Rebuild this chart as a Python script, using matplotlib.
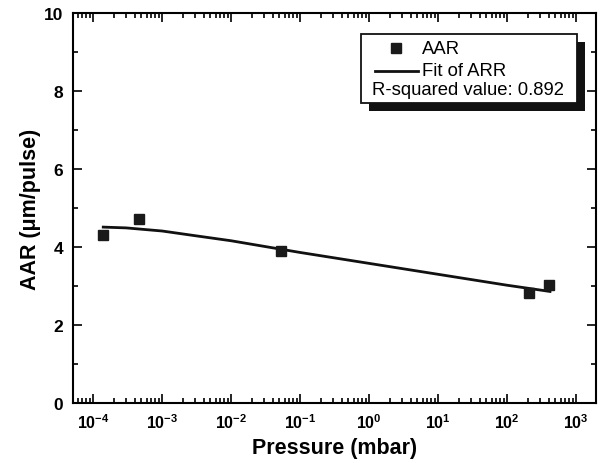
""" AAR versus pressure, log-x scatter with fitted curve """
import math

import matplotlib
matplotlib.use('Agg')
import matplotlib.pyplot as plt
from matplotlib.patches import Rectangle
from matplotlib.lines import Line2D
from matplotlib.ticker import FixedLocator, FuncFormatter, LogLocator, MultipleLocator, NullFormatter

plt.rcParams['font.family'] = ['Liberation Sans', 'DejaVu Sans']
plt.rcParams['mathtext.fontset'] = 'custom'
plt.rcParams['mathtext.bf'] = 'Liberation Sans:bold'
plt.rcParams['mathtext.rm'] = 'Liberation Sans:bold'
plt.rcParams['mathtext.default'] = 'bf'

# measured points
pressure = [1.4e-4, 4.6e-4, 5.2e-2, 2.1e2, 4.1e2]
aar = [4.32, 4.71, 3.91, 2.81, 3.03]

# fitted curve
fit_pressure = [1.4e-4, 3e-4, 1e-3, 3e-3, 1e-2, 5e-2, 1e-1, 1, 10, 100, 420]
fit_aar = [4.51, 4.49, 4.41, 4.29, 4.16, 3.95, 3.86, 3.58, 3.30, 3.02, 2.86]

# decade ticks on the pressure axis
x_exponents = [-4, -3, -2, -1, 0, 1, 2, 3]

W, H = 603, 464


def fx(x):
    return x / W


def fy(y):
    return 1 - y / H


def decade_label(v, pos):
    return r'$\mathbf{10^{%d}}$' % round(math.log10(v))


fig = plt.figure(figsize=(W / 100, H / 100), dpi=100)
ax = fig.add_axes([fx(73), fy(404), (596 - 73) / W, (404 - 14) / H])

ax.plot(fit_pressure, fit_aar, color='#111111', lw=2.0, zorder=2)
ax.plot(pressure, aar, 's', color='#1a1a1a', ms=6.5, zorder=3)

ax.set_xscale('log')
ax.set_xlim(5.1e-5, 1950)
ax.set_ylim(0, 10)
ax.yaxis.set_major_locator(MultipleLocator(2))
ax.yaxis.set_minor_locator(MultipleLocator(1))
ax.xaxis.set_major_locator(FixedLocator([10.0 ** e for e in x_exponents]))
ax.xaxis.set_major_formatter(FuncFormatter(decade_label))
ax.xaxis.set_minor_locator(LogLocator(base=10, subs=range(2, 10), numticks=100))
ax.xaxis.set_minor_formatter(NullFormatter())

for s in ax.spines.values():
    s.set_linewidth(1.5)
ax.tick_params(which='both', direction='in', top=True, right=True, width=1.2)
ax.tick_params(which='major', length=6.5)
ax.tick_params(which='minor', length=3.5)
ax.tick_params(axis='y', labelsize=12.5, pad=7)
ax.tick_params(axis='x', labelsize=11.5, pad=7)
for lab in ax.get_yticklabels():
    lab.set_fontweight('bold')

ax.set_xlabel('Pressure (mbar)', fontsize=15.5, fontweight='bold', labelpad=4)
ax.set_ylabel('AAR (\u03bcm/pulse)', fontsize=15.5, fontweight='bold', labelpad=2)

# legend box with solid shadow
x0, y0, x1, y1 = 361, 35, 577, 104
fig.add_artist(Rectangle((fx(x0 + 8), fy(y1 + 8)), (x1 - x0) / W, (y1 - y0) / H,
                         transform=fig.transFigure, facecolor='#111111', edgecolor='none'))
fig.add_artist(Rectangle((fx(x0), fy(y1)), (x1 - x0) / W, (y1 - y0) / H,
                         transform=fig.transFigure, facecolor='white', edgecolor='#111111', lw=1.3))
fig.add_artist(Line2D([fx(396)], [fy(49)], marker='s', color='#1a1a1a', ms=6.5,
                      transform=fig.transFigure))
fig.add_artist(Line2D([fx(375), fx(418)], [fy(72), fy(72)], color='#111111', lw=2.0,
                      transform=fig.transFigure))
fig.text(fx(422), fy(49), 'AAR', fontsize=13.3, va='center', ha='left')
fig.text(fx(422), fy(72), 'Fit of ARR', fontsize=13.3, va='center', ha='left')
fig.text(fx(372), fy(91), 'R-squared value: 0.892', fontsize=13.3, va='center', ha='left')

fig.savefig('out.png', dpi=100)
